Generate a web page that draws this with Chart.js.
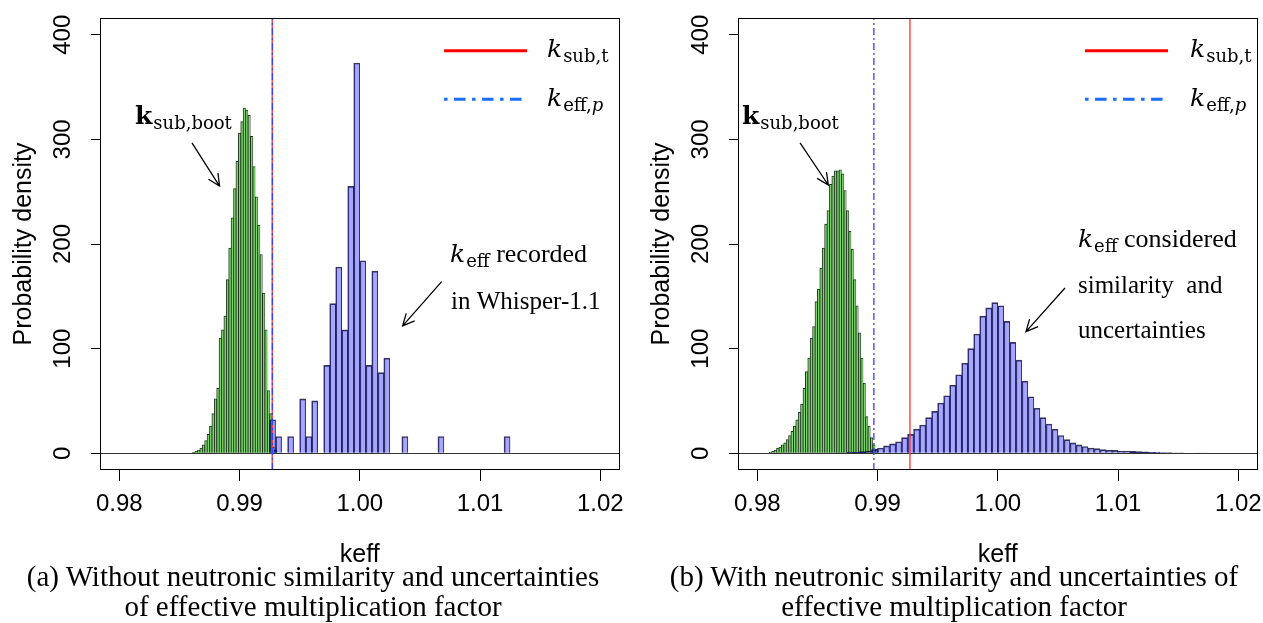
<!DOCTYPE html>
<html>
<head>
<meta charset="utf-8">
<script src="https://cdn.jsdelivr.net/npm/chart.js@4.4.1/dist/chart.umd.min.js"></script>
<style>
  html, body { margin:0; padding:0; background:#fff; }
  body { width:1263px; height:623px; position:relative; overflow:hidden; }
  .panel { position:absolute; top:0; width:625px; height:623px; }
  .cap { position:absolute; top:561px; font-family:"Liberation Serif","Times New Roman",serif; font-size:29px; line-height:30px; text-align:center; color:#000; white-space:nowrap; }
</style>
</head>
<body>
<div class="panel" style="left:0px"><canvas id="chartA" width="625" height="623"></canvas></div>
<div class="panel" style="left:638px"><canvas id="chartB" width="625" height="623"></canvas></div>
<div class="cap" style="left:0px;width:626px">(a) Without neutronic similarity and uncertainties<br>of effective multiplication factor</div>
<div class="cap" style="left:638px;width:632px">(b) With neutronic similarity and uncertainties of<br>effective multiplication factor</div>
<script>
// ---------- shared axis data ----------
const xTicks = [0.98, 0.99, 1.00, 1.01, 1.02];
const yTicks = [0, 100, 200, 300, 400];
const xLimits = [0.9784, 1.0216];
const yLimits = [-16, 416];

// ---------- panel (a): without similarity / uncertainties ----------
const aGreenX = [0.9862,0.9864,0.9866,0.9868,0.9870,0.9872,0.9874,0.9876,0.9878,0.9880,
                 0.9882,0.9884,0.9886,0.9888,0.9890,0.9892,0.9894,0.9896,0.9898,0.9900,
                 0.9902,0.9904,0.9906,0.9908,0.9910,0.9912,0.9914,0.9916,0.9918,0.9920,
                 0.9922,0.9924,0.9926,0.9928,0.9930];
const aGreenY = [1,2,3,5,8,12,18,26,38,52,
                 62,110,118,131,166,196,225,253,279,306,
                 317,330,328,323,303,274,245,218,190,153,
                 118,60,38,6,3];
const aBlueX = [0.99275,0.99325,0.99425,0.99525,0.99575,0.99625,0.99725,0.99775,0.99825,0.99875,
                0.99925,0.99975,1.00025,1.00075,1.00125,1.00175,1.00225,1.00375,1.00675,1.01225];
const aBlueY = [32,16,16,52,16,50,84,143,178,118,
                255,373,184,84,174,77,91,16,16,16];
const aKsubT = [0.99272];
const aKeffP = [0.99274];

// ---------- panel (b): with similarity / uncertainties ----------
const bGreenX = [0.9811,0.9813,0.9815,0.9817,0.9819,0.9821,0.9823,0.9825,0.9827,0.9829,
                 0.9831,0.9833,0.9835,0.9837,0.9839,0.9841,0.9843,0.9845,0.9847,0.9849,
                 0.9851,0.9853,0.9855,0.9857,0.9859,0.9861,0.9863,0.9865,0.9867,0.9869,
                 0.9871,0.9873,0.9875,0.9877,0.9879,0.9881,0.9883,0.9885,0.9887,0.9889,
                 0.9891,0.9893,0.9895,0.9897,0.9899];
const bGreenY = [1,2,3,5,6,8,10,13,17,21,
                 26,32,39,47,62,78,91,110,121,145,
                 157,177,196,219,232,257,265,270,270,271,
                 267,251,232,212,195,166,141,115,91,67,
                 35,26,15,8,4];
const bBlueX = [0.98675,0.98725,0.98775,0.98825,0.98875,0.98925,0.98975,0.99025,0.99075,0.99125,
                0.99175,0.99225,0.99275,0.99325,0.99375,0.99425,0.99475,0.99525,0.99575,0.99625,
                0.99675,0.99725,0.99775,0.99825,0.99875,0.99925,0.99975,1.00025,1.00075,1.00125,
                1.00175,1.00225,1.00275,1.00325,1.00375,1.00425,1.00475,1.00525,1.00575,1.00625,
                1.00675,1.00725,1.00775,1.00825,1.00875,1.00925,1.00975,1.01025,1.01075,1.01125,
                1.01175,1.01225,1.01275,1.01325,1.01375,1.01425,1.01475,1.01525,1.01575,1.01625,
                1.01675,1.01725];
const bBlueY = [0.5,0.5,1,1,1.5,2,3.5,5,7,9,
                11,15,18,23,27,34,40,48,55,65,
                75,86,100,114,131,139,144,141,126,106,
                89,69,54,43,34,28,23,17,13,10,
                8,6.5,5,4.5,3.5,3,2.8,2.2,2,1.8,
                1.6,1.4,1,0.8,0.7,0.6,0.5,0.5,0.4,0.4,
                0.3,0.3];
const bKsubT = [0.99270];
const bKeffP = [0.98970];

// ---------- text styles ----------
const SANS = '"Liberation Sans", Arial, sans-serif';
const KIT = 'italic 25px "DejaVu Serif"';
const KBOLD = 'bold 25px "DejaVu Serif"';
const SUBF = '18px "DejaVu Serif"';
const SUBI = 'italic 18px "DejaVu Serif"';
const TXT = '26px "Liberation Serif"';
const TXT2 = '25px "Liberation Serif"';

const kBootSegs = [{t:'k', f:KBOLD}, {t:'sub,boot', f:SUBF, dy:5, dx:1}];
const kSubTSegs = [{t:'k', f:KIT}, {t:'sub,t', f:SUBF, dy:5, dx:1}];
const kEffPSegs = [{t:'k', f:KIT}, {t:'eff,', f:SUBF, dy:5, dx:1}, {t:'p', f:SUBI, dy:5}];

const panelA = {
  greenX:aGreenX, greenY:aGreenY, blueX:aBlueX, blueY:aBlueY, ksubT:aKsubT, keffP:aKeffP,
  legend: [
    {x1:1.00701, x2:1.01391, y:384.8, color:'#ff0000', dash:[], tx:1.01557, ty:378.5, segs:kSubTSegs},
    {x1:1.00701, x2:1.01391, y:338.3, color:'#1a6cff', dash:[3.5,6.5,11.5,6.5], tx:1.01557, ty:332.0, segs:kEffPSegs}
  ],
  notes: [
    {x:0.98131, y:314.7, segs:kBootSegs},
    {x:1.00751, y:182.8, segs:[{t:'k', f:KIT}, {t:'eff', f:SUBF, dy:5, dx:1}, {t:' recorded', f:TXT}]},
    {x:1.00759, y:137.9, segs:[{t:'in Whisper-1.1', f:TXT2}]}
  ],
  arrows: [[0.98605,296.6,0.98834,255.4],[1.00681,164.0,1.00357,121.7]]
};
const panelB = {
  greenX:bGreenX, greenY:bGreenY, blueX:bBlueX, blueY:bBlueY, ksubT:bKsubT, keffP:bKeffP,
  legend: [
    {x1:1.00726, x2:1.01416, y:384.8, color:'#ff0000', dash:[], tx:1.01599, ty:378.5, segs:kSubTSegs},
    {x1:1.00726, x2:1.01416, y:338.3, color:'#1a6cff', dash:[3.5,6.5,11.5,6.5], tx:1.01599, ty:332.0, segs:kEffPSegs}
  ],
  notes: [
    {x:0.97873, y:314.7, segs:kBootSegs},
    {x:1.00667, y:197.2, segs:[{t:'k', f:KIT}, {t:'eff', f:SUBF, dy:5, dx:1}, {t:' considered', f:TXT}]},
    {x:1.00667, y:153.5, segs:[{t:'similarity  and', f:TXT2}]},
    {x:1.00667, y:110.2, segs:[{t:'uncertainties', f:TXT2}]}
  ],
  arrows: [[0.98356,296.6,0.98591,256.4],[1.00559,158.0,1.00235,116.2]]
};

// ---------- drawing helpers ----------
function rich(ctx, x, y, segs) {
  ctx.fillStyle = '#000';
  ctx.textAlign = 'left';
  ctx.textBaseline = 'alphabetic';
  for (const s of segs) {
    ctx.font = s.f;
    x += (s.dx || 0);
    ctx.fillText(s.t, x, y + (s.dy || 0));
    x += ctx.measureText(s.t).width;
  }
}
function arrow(ctx, x1, y1, x2, y2) {
  const ang = Math.atan2(y2 - y1, x2 - x1), L = 13, w = Math.PI / 7;
  ctx.beginPath();
  ctx.strokeStyle = '#000'; ctx.lineWidth = 1.3; ctx.setLineDash([]);
  ctx.moveTo(x1, y1); ctx.lineTo(x2, y2);
  ctx.moveTo(x2 - L * Math.cos(ang - w), y2 - L * Math.sin(ang - w));
  ctx.lineTo(x2, y2);
  ctx.lineTo(x2 - L * Math.cos(ang + w), y2 - L * Math.sin(ang + w));
  ctx.stroke();
}
function makeDecor(p) {
  return {
    id: 'decor',
    afterDraw(chart) {
      const {ctx, chartArea: a} = chart;
      const sx = chart.scales.x, sy = chart.scales.y;
      const X = v => sx.getPixelForValue(v), Y = v => sy.getPixelForValue(v);
      ctx.save();
      ctx.strokeStyle = '#000'; ctx.lineWidth = 1; ctx.setLineDash([]);
      const L = Math.round(a.left) + 0.5, T = Math.round(a.top) + 0.5;
      const R = Math.round(a.right) - 0.5, B = Math.round(a.bottom) - 0.5;
      ctx.strokeRect(L, T, R - L, B - T);
      p.legend.forEach(e => {
        ctx.beginPath();
        ctx.strokeStyle = e.color; ctx.lineWidth = 3; ctx.lineCap = 'butt';
        ctx.setLineDash(e.dash);
        ctx.moveTo(X(e.x1), Y(e.y)); ctx.lineTo(X(e.x2), Y(e.y));
        ctx.stroke();
        ctx.setLineDash([]);
        rich(ctx, X(e.tx), Y(e.ty), e.segs);
      });
      p.notes.forEach(n => rich(ctx, X(n.x), Y(n.y), n.segs));
      p.arrows.forEach(r => arrow(ctx, X(r[0]), Y(r[1]), X(r[2]), Y(r[3])));
      ctx.restore();
    }
  };
}

Chart.defaults.font.family = SANS;
Chart.defaults.color = '#000';

function makeChart(id, p) {
  const hist = {barPercentage:1, categoryPercentage:1, grouped:false, borderSkipped:'start'};
  const hiddenX = {type:'linear', display:false, min:xLimits[0], max:xLimits[1], offset:false, grid:{offset:false}};
  return new Chart(document.getElementById(id), {
    type: 'bar',
    data: {
      datasets: [
        {type:'line', label:'keff,p', xAxisID:'x', yAxisID:'y',
         data:[{x:p.keffP[0], y:yLimits[0]}, {x:p.keffP[0], y:yLimits[1]}],
         borderColor:'rgb(60,60,255)', borderWidth:1.3, borderDash:[7,3,2,3], pointRadius:0, fill:false},
        {type:'line', label:'ksub,t', xAxisID:'x', yAxisID:'y',
         data:[{x:p.ksubT[0], y:yLimits[0]}, {x:p.ksubT[0], y:yLimits[1]}],
         borderColor:'rgb(255,45,45)', borderWidth:1.3, pointRadius:0, fill:false},
        Object.assign({label:'keff', xAxisID:'xb', yAxisID:'y',
         data:p.blueX.map((x, i) => ({x, y:p.blueY[i]})),
         backgroundColor:'rgba(0,0,255,0.35)', borderColor:'rgba(10,10,30,0.8)',
         borderWidth:{left:1, right:0.4, top:1, bottom:0}}, hist),
        Object.assign({label:'ksub,boot', xAxisID:'xg', yAxisID:'y',
         data:p.greenX.map((x, i) => ({x, y:p.greenY[i]})),
         backgroundColor:'rgb(128,215,112)', borderColor:'rgba(10,35,10,0.9)',
         borderWidth:{left:1, right:0.6, top:1, bottom:0}}, hist)
      ]
    },
    options: {
      responsive:false, animation:false, devicePixelRatio:1,
      layout:{padding:{left:0, right:5.5, top:18, bottom:53}},
      plugins:{legend:{display:false}, tooltip:{enabled:false}},
      scales: {
        x: {type:'linear', position:'bottom', min:xLimits[0], max:xLimits[1], offset:false,
            afterBuildTicks: s => { s.ticks = xTicks.map(v => ({value:v})); },
            afterFit: s => { s.height = 100; s.paddingLeft = 0; s.paddingRight = 0; },
            ticks:{font:{family:SANS, size:24}, color:'#000', padding:9, maxRotation:0, autoSkip:false,
                   callback: v => Number(v).toFixed(2)},
            grid:{drawOnChartArea:false, offset:false, tickLength:11, tickColor:'#000', tickWidth:1},
            border:{display:false},
            title:{display:true, text:'keff', font:{family:SANS, size:25}, color:'#000', padding:{top:0, bottom:0}}},
        xb: hiddenX,
        xg: Object.assign({}, hiddenX),
        y: {type:'linear', position:'left', min:yLimits[0], max:yLimits[1],
            afterBuildTicks: s => { s.ticks = yTicks.map(v => ({value:v})); },
            afterFit: s => { s.width = 100; s.paddingTop = 0; s.paddingBottom = 0; },
            ticks:{font:{family:SANS, size:24}, color:'#000', minRotation:90, maxRotation:90,
                   crossAlign:'center', padding:8, autoSkip:false},
            grid:{drawOnChartArea:true, color: c => (c.tick && c.tick.value === 0) ? '#333' : 'rgba(0,0,0,0)',
                  tickColor:'#000', tickLength:9, lineWidth:1},
            border:{display:false},
            title:{display:true, text:'Probability density', font:{family:SANS, size:25}, color:'#000',
                   padding:{top:9, bottom:0}}}
      }
    },
    plugins:[makeDecor(p)]
  });
}

makeChart('chartA', panelA);
makeChart('chartB', panelB);
</script>
</body>
</html>
